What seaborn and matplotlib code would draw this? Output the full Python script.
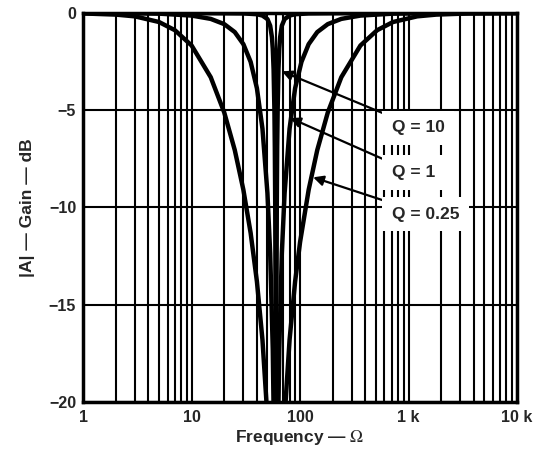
import matplotlib
matplotlib.use("Agg")
import matplotlib.pyplot as plt
import matplotlib.ticker as mticker
import seaborn as sns
import pandas as pd

# values (notch at ~60 Hz)
freq_q10 = [1, 10, 30, 40, 45, 50, 53, 55, 56, 57, 58, 58.5, 59, 59.5, 59.8, 60,
            60.2, 60.5, 61.0, 61.5, 62.1, 63.2, 64.3, 65.5, 67.9, 72, 80, 90, 120, 360, 10000]
gain_q10 = [0, 0, -0.02, -0.06, -0.13, -0.31, -0.65, -1.24, -1.83, -2.9, -5.0, -6.9, -9.9, -15.7, -23.5, -40,
            -23.5, -15.7, -9.9, -6.9, -5.0, -2.9, -1.83, -1.24, -0.65, -0.31, -0.13, -0.06, -0.02, 0, 0]

freq_q1 = [1, 3, 5, 10, 15, 20, 25, 30, 35, 40, 45, 50, 53, 56, 58, 60,
           62, 64.3, 67.9, 72, 80, 90, 103, 120, 144, 180, 240, 360, 720, 1200, 10000]
gain_q1 = [0, -0.01, -0.03, -0.13, -0.3, -0.57, -0.98, -1.6, -2.51, -3.87, -5.95, -9.26, -12.35, -17.3, -23.4, -40,
           -23.4, -17.3, -12.35, -9.26, -5.95, -3.87, -2.51, -1.6, -0.98, -0.57, -0.3, -0.13, -0.03, -0.01, 0]

freq_q025 = [1, 2, 3, 5, 7, 10, 15, 20, 25, 30, 35, 40, 45, 50, 55, 60,
             65, 72, 80, 90, 100, 120, 144, 180, 240, 360, 514, 720, 1200, 1800, 3600, 10000]
gain_q025 = [-0.02, -0.08, -0.17, -0.46, -0.88, -1.67, -3.3, -5.12, -7.05, -9.09, -11.31, -13.81, -16.81, -20.79, -27.2, -40,
             -27.95, -20.79, -16.81, -13.81, -11.78, -9.09, -7.05, -5.12, -3.3, -1.67, -0.88, -0.46, -0.17, -0.08, -0.02, 0]

x_ticks = [1, 10, 100, 1000, 10000]
x_ticklabels = ["1", "10", "100", "1 k", "10 k"]
y_ticks = [0, -5, -10, -15, -20]
y_ticklabels = ["0", "\u22125", "\u221210", "\u221215", "\u221220"]

labels = ["Q = 10", "Q = 1", "Q = 0.25"]
label_tips = [(68, -3.0), (81, -5.4), (132, -8.45)]
label_pos = [(700, -5.9), (700, -8.2), (700, -10.35)]

df = pd.concat([
    pd.DataFrame({"f": freq_q10, "gain": gain_q10, "Q": "10"}),
    pd.DataFrame({"f": freq_q1, "gain": gain_q1, "Q": "1"}),
    pd.DataFrame({"f": freq_q025, "gain": gain_q025, "Q": "0.25"}),
])

sns.set_style("white")
plt.rcParams["font.family"] = ["Liberation Sans", "DejaVu Sans"]
plt.rcParams["mathtext.fontset"] = "stix"

fig = plt.figure(figsize=(5.33, 4.5), dpi=100)
ax = fig.add_axes([0.156, 0.107, 0.814, 0.864])

sns.lineplot(data=df, x="f", y="gain", hue="Q", palette={"10": "black", "1": "black", "0.25": "black"},
             estimator=None, linewidth=3.2, legend=False, ax=ax, zorder=3)

ax.set_xscale("log")
ax.set_xlim(1, 10000)
ax.set_ylim(-20, 0)
ax.set_xticks(x_ticks)
ax.set_xticklabels(x_ticklabels)
ax.xaxis.set_minor_locator(mticker.LogLocator(base=10, subs=range(2, 10)))
ax.xaxis.set_minor_formatter(mticker.NullFormatter())
ax.set_yticks(y_ticks)
ax.set_yticklabels(y_ticklabels)

ax.grid(True, which="both", axis="x", color="black", linewidth=1.5)
ax.grid(True, which="major", axis="y", color="black", linewidth=1.5)
ax.set_axisbelow(True)
ax.tick_params(which="both", length=0, labelsize=11.5)
ax.tick_params(axis="x", pad=6)
ax.tick_params(axis="y", pad=5)
for lab in ax.get_xticklabels() + ax.get_yticklabels():
    lab.set_fontweight("bold")
for s in ax.spines.values():
    s.set_linewidth(2.5)
    s.set_color("black")

ax.set_xlabel("Frequency \u2014 $\\Omega$", fontsize=12.5, fontweight="bold")
ax.set_ylabel("|A| \u2014 Gain \u2014 dB", fontsize=12.5, fontweight="bold")
ax.xaxis.set_label_coords(0.5, -0.068)
ax.yaxis.set_label_coords(-0.11, 0.5)

for txt, tip, pos in zip(labels, label_tips, label_pos):
    ax.annotate(txt, xy=tip, xytext=pos, ha="left", va="center", fontsize=12.5, fontweight="bold",
                bbox=dict(boxstyle="square,pad=0.55", fc="white", ec="none"),
                arrowprops=dict(arrowstyle="-|>", color="black", lw=1.6, mutation_scale=15,
                                shrinkA=0, shrinkB=0),
                zorder=5)

fig.savefig("out.png", dpi=100)
